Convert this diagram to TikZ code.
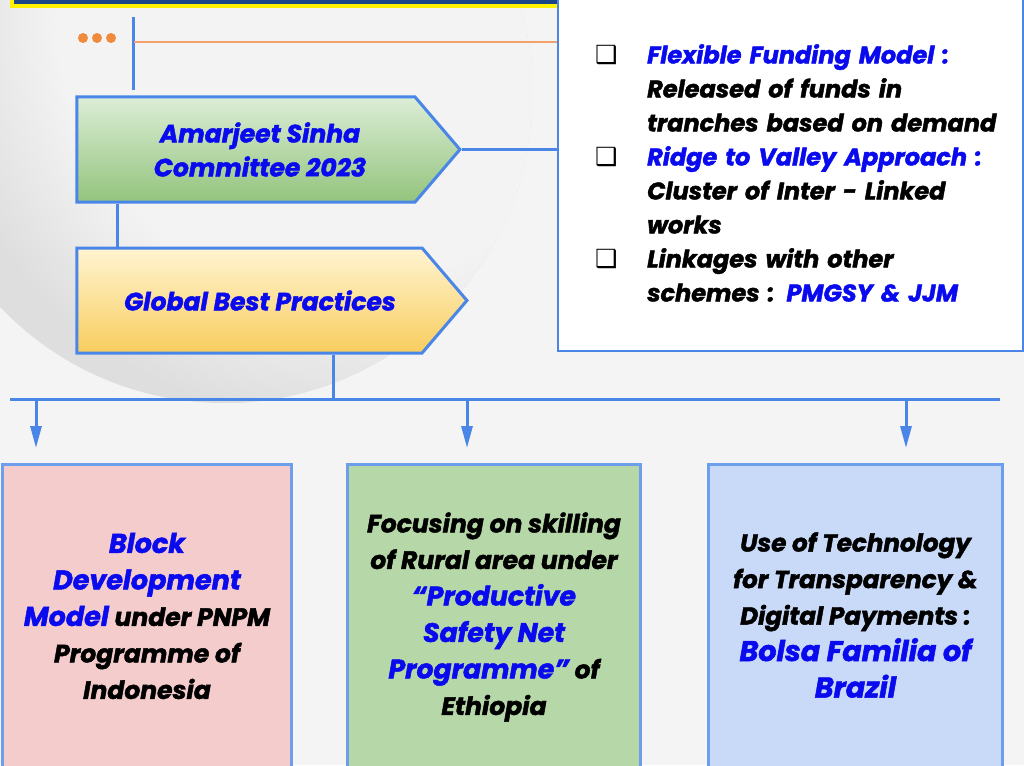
\documentclass[tikz,border=0pt]{standalone}
\usepackage{fontspec}
\setmainfont{Poppins}[BoldItalicFeatures={FakeBold=1.8}]
\newfontfamily\symfont{DejaVu Sans}
\usetikzlibrary{arrows.meta,shapes.symbols,positioning}

\definecolor{bggray}{HTML}{F4F4F4}
\definecolor{discin}{HTML}{F3F3F3}
\definecolor{discout}{HTML}{DEDEDE}
\definecolor{lineblue}{HTML}{4A86E8}
\definecolor{boxblue}{HTML}{6D9EEB}
\definecolor{txtblue}{HTML}{0A0AEE}
\definecolor{navybar}{HTML}{1C4587}
\definecolor{dotorange}{HTML}{F08A3C}
\definecolor{lineorange}{HTML}{F2A06E}
\definecolor{greentop}{HTML}{DCEDD6}
\definecolor{greenbot}{HTML}{93C47D}
\definecolor{yellowtop}{HTML}{FFF4D2}
\definecolor{yellowbot}{HTML}{F8CD5E}
\definecolor{pinkfill}{HTML}{F4CCCC}
\definecolor{greenfill}{HTML}{B6D7A8}
\definecolor{bluefill}{HTML}{C9DAF8}

\pgfdeclareradialshading{discshade}{\pgfpoint{0bp}{0bp}}{color(0bp)=(discin); color(17bp)=(discin); color(25bp)=(discout); color(50bp)=(discout)}

\newcommand\factbullet{\leavevmode\llap{\makebox[52pt][l]{\symfont\fontsize{25}{25}\selectfont ❑}}}
\newcommand\hl[2][27]{{\color{txtblue}\fontsize{#1}{36.5}\selectfont #2}}

\begin{document}
\begin{tikzpicture}[x=1pt,y=-1pt,
  line/.style={draw=lineblue,line width=3pt},
  arrowbox/.style={shape=signal,signal to=east,signal pointer angle=99,draw=lineblue,line width=3pt,
    minimum height=105pt,inner sep=0pt},
  arrowtext/.style={text=txtblue,align=center,font=\fontsize{25}{34}\selectfont\bfseries\itshape},
  bottombox/.style={draw=boxblue,line width=3pt,anchor=north west,minimum height=330pt},
  boxtext/.style={align=center,font=\fontsize{25}{36.5}\selectfont\bfseries\itshape}]

\useasboundingbox (0,0) rectangle (1024,765);
\clip (0,0) rectangle (1024,765);

% Background and disc
\fill [bggray] (0,0) rectangle (1024,765);
\begin{scope}
\clip (224,94) circle (309pt);
\fill [discout] (224,94) circle (309pt);
\shade [shading=discshade] (330,20) circle (400pt);
\end{scope}

% Top bar
\filldraw [draw=yellow,line width=4pt,fill=navybar] (12,-30) rectangle (570,6);

% Dots and top lines
\foreach \x in {83,97,111}
\fill [dotorange] (\x,38) circle (5pt);
\draw [line] (133,17) -- (133,90);

% Right box
\node [draw=lineblue,line width=2pt,fill=white,anchor=south west,
  minimum width=465pt,minimum height=380pt] (facts) at (557,352) {};
\draw [lineorange,line width=2.5pt] (134,42) -- (facts.west |- 134,42);

\node [anchor=north west,text width=380pt,align=left,inner sep=0pt,
  font=\fontsize{24}{34}\selectfont\bfseries\itshape] (factlist) at (647,44)
{\factbullet\textcolor{txtblue}{Flexible Funding Model :}\\
Released of funds in\\
tranches based on demand\\
\factbullet\textcolor{txtblue}{Ridge to Valley Approach :}\\
Cluster of Inter - Linked\\
works\\
\factbullet Linkages with other\\
schemes : \textcolor{txtblue}{PMGSY \& JJM}};

% Arrow boxes
\node [arrowbox,top color=greentop,bottom color=greenbot,minimum width=383pt] (committee) at (246,149.5) {};
\node [arrowtext] (committeetext) at (260,149.5) {Amarjeet Sinha\\Committee 2023};
\node [arrowbox,top color=yellowtop,bottom color=yellowbot,minimum width=390pt] (global) at (249.5,300.5) {};
\node [arrowtext] (globaltext) at (260,300.5) {Global Best Practices};

% Connections
\draw [line] (committee.east) -- (committee.east -| facts.west);
\draw [line] (117,0 |- committee.south) -- (117,0 |- global.north);
\coordinate (busL) at (10,399);
\coordinate (busR) at (1000,399);
\draw [line] (333,0 |- global.south) -- (333,0 |- busL);
\draw [line] (busL) -- (busR);
\foreach \x in {36,467,906}
\draw [line,-{Triangle[length=22pt,width=11pt]}] (\x,0 |- busL) -- (\x,448);

% Bottom boxes
\node [bottombox,fill=pinkfill,minimum width=289pt] (indonesia) at (1,463) {};
\node [bottombox,fill=greenfill,minimum width=293pt] (ethiopia) at (346,463) {};
\node [bottombox,fill=bluefill,minimum width=294pt] (brazil) at (707,463) {};

\node [boxtext] (indonesiatext) at (indonesia.north |- 0,616)
{\hl{Block}\\\hl{Development}\\\hl{Model} under PNPM\\Programme of\\Indonesia};
\node [boxtext] (ethiopiatext) at (ethiopia.north |- 0,617)
{Focusing on skilling\\of Rural area under\\\hl[26.7]{“Productive}\\\hl[26.7]{Safety Net}\\\hl[26.7]{Programme”} of\\Ethiopia};
\node [boxtext,font=\fontsize{24.6}{36.5}\selectfont\bfseries\itshape] (braziltext) at (brazil.north |- 0,615)
{Use of Technology\\for Transparency \&\\Digital Payments :\\\hl[28.5]{Bolsa Familia of}\\\hl[28.5]{Brazil}};

\end{tikzpicture}
\end{document}
